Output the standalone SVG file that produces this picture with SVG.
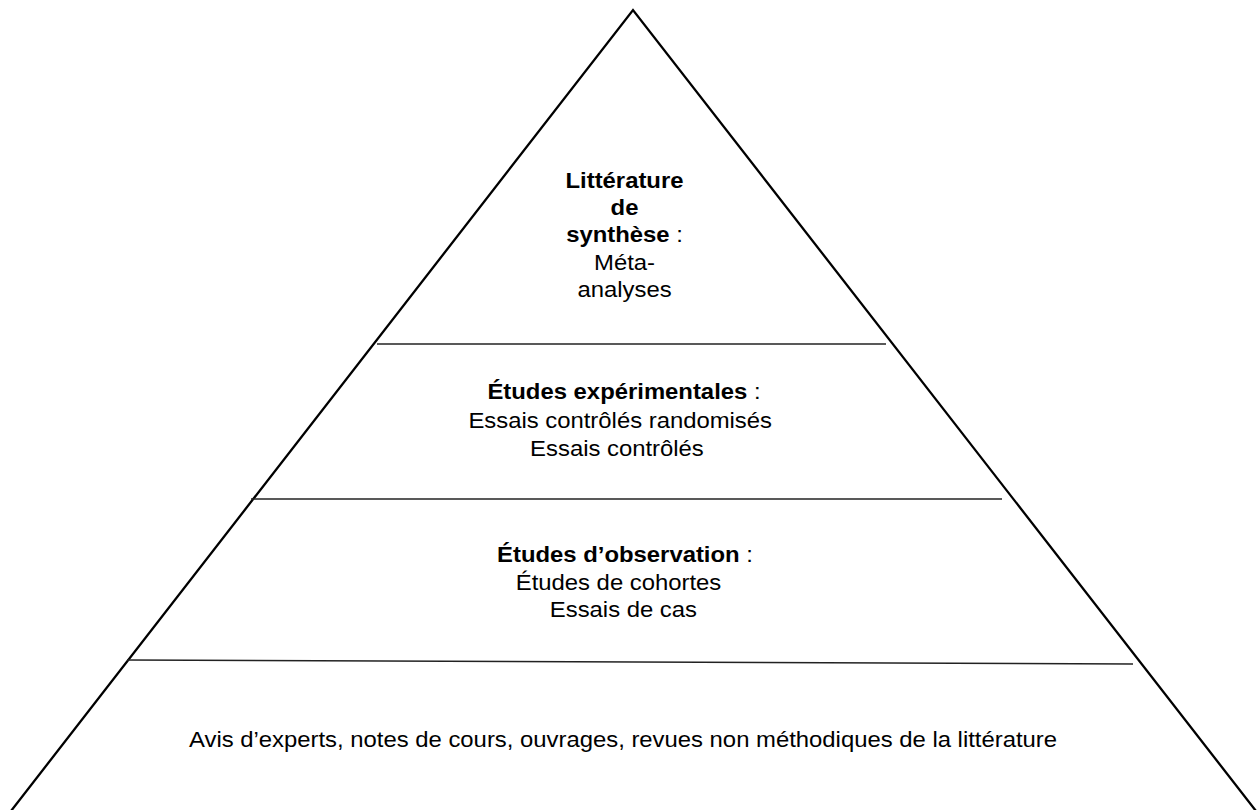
<svg xmlns="http://www.w3.org/2000/svg" width="1258" height="810" viewBox="0 0 1258 810">
  <style>
    .t { font-family: "Liberation Sans", Arial, sans-serif; font-size: 22px; fill: #000; text-anchor: middle; }
    .b { font-weight: bold; }
    .edge { stroke: #000; stroke-width: 2.3; fill: none; stroke-linecap: round; stroke-linejoin: miter; }
    .div { stroke: #222; stroke-width: 1.4; fill: none; }
  </style>
  <rect width="1258" height="810" fill="#fff"/>
  <g id="connectors">
    <polyline class="edge" points="11,811 633,10 1256,811"/>
    <line class="div" x1="377" y1="344" x2="886" y2="344"/>
    <line class="div" x1="251" y1="499" x2="1002" y2="499"/>
    <line class="div" x1="127" y1="660" x2="1133" y2="664"/>
  </g>
  <g id="tier-synthese" transform="translate(624.5 0) scale(1.085 1)">
    <text class="t b" x="0" y="188.5">Littérature</text>
    <text class="t b" x="0" y="215">de</text>
    <text class="t" x="0" y="242"><tspan class="b">synthèse</tspan> :</text>
    <text class="t" x="0" y="270">Méta-</text>
    <text class="t" x="0" y="297.5">analyses</text>
  </g>
  <g id="tier-experimentales" transform="translate(624 0) scale(1.085 1)">
    <text class="t" x="0" y="399.5"><tspan class="b">Études expérimentales</tspan> :</text>
    <text class="t" x="-3.5" y="428">Essais contrôlés randomisés</text>
    <text class="t" x="-6.5" y="456.5">Essais contrôlés</text>
  </g>
  <g id="tier-observation" transform="translate(625 0) scale(1.085 1)">
    <text class="t" x="0" y="562"><tspan class="b">Études d’observation</tspan> :</text>
    <text class="t" x="-6" y="590">Études de cohortes</text>
    <text class="t" x="-1.5" y="617.5">Essais de cas</text>
  </g>
  <g id="tier-avis" transform="translate(623 0) scale(1.085 1)">
    <text class="t" x="0" y="747">Avis d’experts, notes de cours, ouvrages, revues non méthodiques de la littérature</text>
  </g>
</svg>
